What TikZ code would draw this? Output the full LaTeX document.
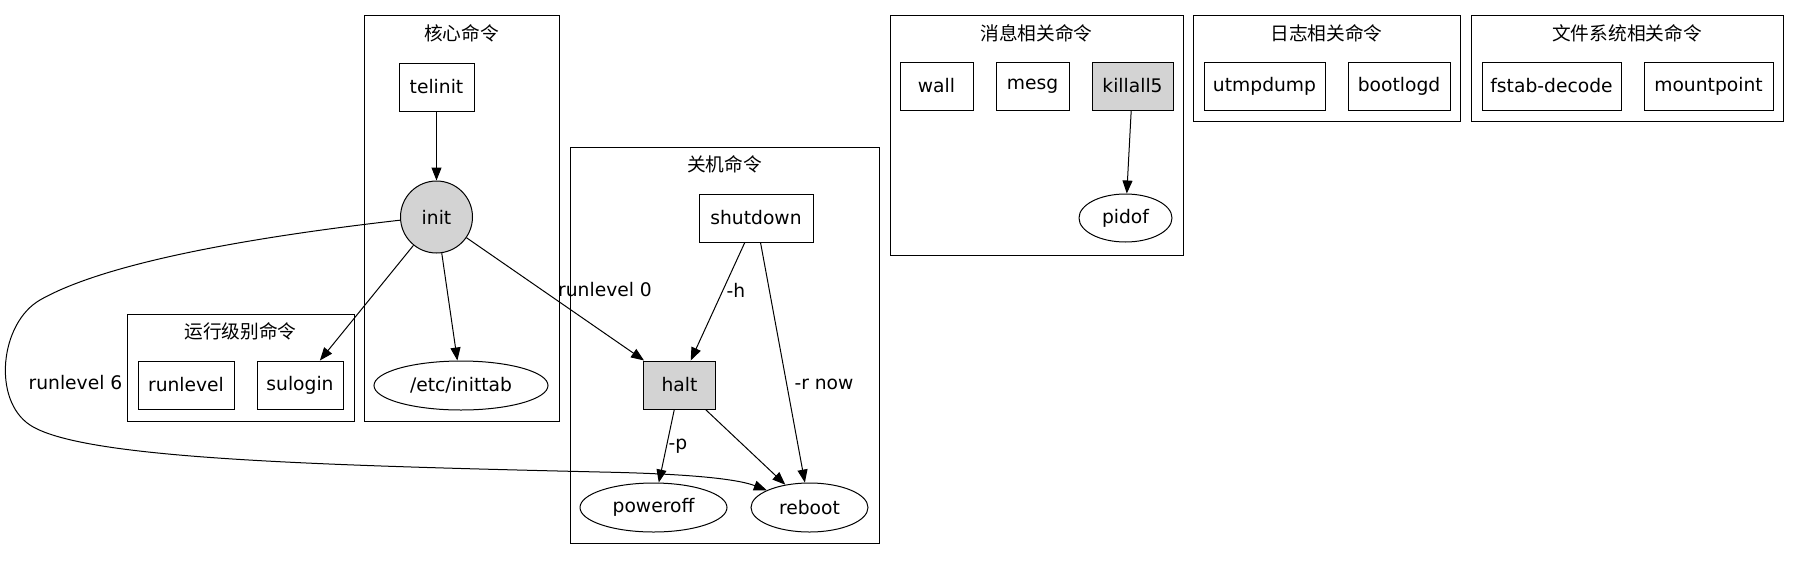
\documentclass[tikz,border=0pt]{standalone}
\usepackage{fontspec}
\setmainfont{DejaVu Sans}
\newfontfamily\cjk{Noto Sans CJK SC}
\usetikzlibrary{shapes.geometric,arrows.meta}
\tikzset{
  base/.style={font=\fontsize{18.7}{22}\selectfont, inner sep=0pt, line width=1pt},
  cmd/.style={base, draw, rectangle, minimum height=48pt},
  oval/.style={base, draw, ellipse, minimum height=49pt},
  clusterbox/.style={draw, line width=1pt},
  ctitle/.style={font=\cjk\fontsize{18.7}{22}\selectfont, inner sep=0pt},
  lbl/.style={font=\fontsize{18.7}{22}\selectfont, inner sep=0pt},
  arr/.style={-{Triangle[length=13pt,width=10pt]}, line width=1pt},
  grayfill/.style={fill={rgb,255:red,211;green,211;blue,211}},
}
\begin{document}
\begin{tikzpicture}[x=1pt,y=-1pt]
\useasboundingbox (0,0) rectangle (1799,560);
% clusters
\draw[clusterbox] (364,15.5) rectangle (559,421);
\node[ctitle] (t1) at (461.5,33) {核心命令};
\draw[clusterbox] (127,314) rectangle (354,421);
\node[ctitle] (t2) at (240.5,331) {运行级别命令};
\draw[clusterbox] (570,147) rectangle (879,543);
\node[ctitle] (t3) at (724.5,164) {关机命令};
\draw[clusterbox] (890,15.5) rectangle (1183,255);
\node[ctitle] (t4) at (1036.5,33) {消息相关命令};
\draw[clusterbox] (1193,15.5) rectangle (1460,121);
\node[ctitle] (t5) at (1326.5,33) {日志相关命令};
\draw[clusterbox] (1471,15.5) rectangle (1783,121);
\node[ctitle] (t6) at (1627,33) {文件系统相关命令};

% nodes
\node[cmd, minimum width=75pt] (telinit) at (436.5,87) {telinit};
\node[base, draw, circle, grayfill, minimum size=72pt] (init) at (436.5,217) {init};
\node[oval, minimum width=174pt] (inittab) at (461,385.5) {/etc/inittab};
\node[cmd, minimum width=96pt] (runlevel) at (186,385) {runlevel};
\node[cmd, minimum width=86pt] (sulogin) at (300,385) {sulogin};
\node[cmd, minimum width=114pt] (shutdown) at (756,218) {shutdown};
\node[cmd, grayfill, minimum width=72pt] (halt) at (679.5,385) {halt};
\node[oval, minimum width=147pt] (poweroff) at (653.5,507.5) {poweroff};
\node[oval, minimum width=117pt] (reboot) at (809.5,507.5) {reboot};
\node[cmd, minimum width=73pt] (wall) at (936.5,86) {wall};
\node[cmd, minimum width=73pt] (mesg) at (1032.5,86) {mesg};
\node[cmd, grayfill, minimum width=81pt] (killall) at (1132.5,86) {killall5};
\node[oval, minimum width=93pt, minimum height=48pt] (pidof) at (1125.5,218) {pidof};
\node[cmd, minimum width=121pt] (utmpdump) at (1264.5,86) {utmpdump};
\node[cmd, minimum width=102pt] (bootlogd) at (1399,86) {bootlogd};
\node[cmd, minimum width=139pt] (fstab) at (1551.5,86) {fstab-decode};
\node[cmd, minimum width=129pt] (mountpoint) at (1708.5,86) {mountpoint};

% edges
\draw[arr] (telinit) -- (init);
\draw[arr] (init) -- (sulogin);
\draw[arr] (init) -- (inittab);
\draw[arr] (init) -- (halt);
\draw[arr] (init.185) .. controls (270,235) and (110,260) .. (40,300)
  .. controls (0,323) and (-8,400) .. (30,425)
  .. controls (80,458) and (300,465) .. (600,472)
  .. controls (700,474) and (740,480) .. (reboot.158);
\draw[arr] (shutdown) -- (halt);
\draw[arr] (shutdown) -- (reboot);
\draw[arr] (halt) -- (poweroff);
\draw[arr] (halt) -- (reboot);
\draw[arr] (killall) -- (pidof);

% edge labels
\node[lbl] (l0) at (605,290) {runlevel 0};
\node[lbl] (l6) at (75.5,383) {runlevel 6};
\node[lbl] (lh) at (736,290) {-h};
\node[lbl] (lr) at (824,384) {-r now};
\node[lbl] (lp) at (678,446) {-p};
\end{tikzpicture}
\end{document}
